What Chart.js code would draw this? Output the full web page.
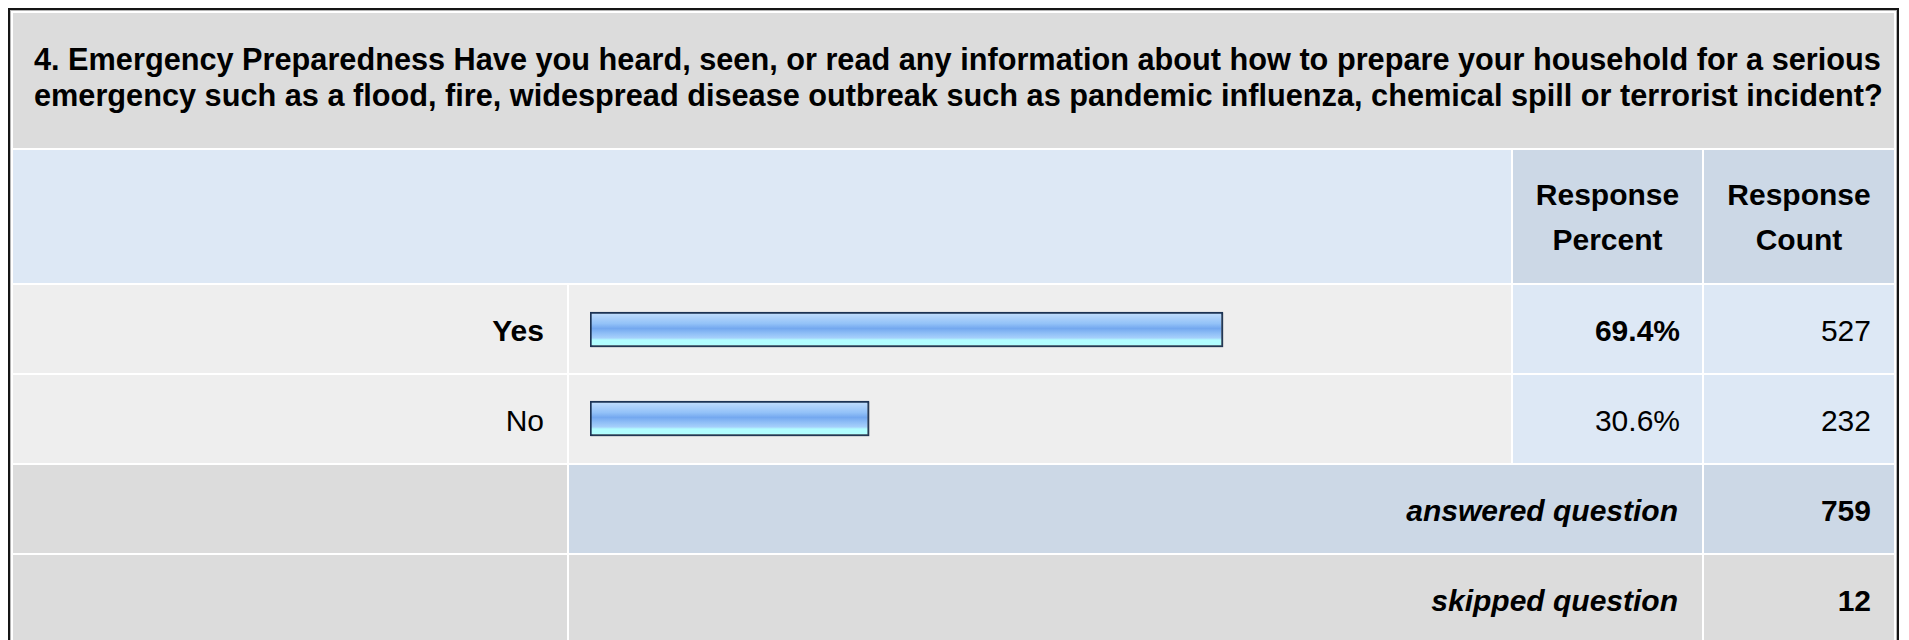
<!DOCTYPE html>
<html>
<head>
<meta charset="utf-8">
<script src="https://cdn.jsdelivr.net/npm/chart.js@4/dist/chart.umd.min.js"></script>
<style>
  html, body { margin: 0; padding: 0; background: #ffffff; width: 1909px; height: 640px; overflow: hidden; }
  body { font-family: "Liberation Sans", Arial, sans-serif; color: #000; position: relative; }
  .frame { position: absolute; left: 8px; top: 8px; width: 1887px; height: 700px;
           border: 2px solid #151515; box-sizing: content-box; }
  .inner { position: absolute; left: 10px; top: 10px; width: 1885px; height: 700px; border: 1px solid #b5b5b5; background: #ffffff; }
  .cell { position: absolute; box-sizing: border-box; display: flex; align-items: center; font-size: 30px; }
  .r { justify-content: flex-end; text-align: right; padding-top: 3px; }
  .c { justify-content: center; text-align: center; }
  .b { font-weight: bold; }
  .i { font-style: italic; }
  #chartBox { position: absolute; left: 569px; top: 285px; width: 942px; height: 178px; }
</style>
</head>
<body>
<div class="frame"></div>
<div class="inner"></div>
<div id="cells"></div>
<div id="chartBox"><canvas id="chart" width="942" height="178" style="width:942px;height:178px;"></canvas></div>
<script>
// ---- data ----
const questionLine1 = "4. Emergency Preparedness Have you heard, seen, or read any information about how to prepare your household for a serious";
const questionLine2 = "emergency such as a flood, fire, widespread disease outbreak such as pandemic influenza, chemical spill or terrorist incident?";
const headerLabels = ["Response Percent", "Response Count"];
const categories = ["Yes", "No"];
const responsePercent = [69.4, 30.6];
const responseCount = [527, 232];
const answeredLabel = "answered question";
const answeredCount = 759;
const skippedLabel = "skipped question";
const skippedCount = 12;

// ---- layout (table cells) ----
const C = { x0: 13, x1: 567, x2: 569, x3: 1511, x4: 1513, x5: 1702, x6: 1704, x7: 1894 };
const rowsY = [[13,148],[150,283],[285,373],[375,463],[465,553],[555,643]];
const GRAY = "#dcdcdc", LBLUE = "#dde8f5", MBLUE = "#ccd8e6", LGRAY = "#eeeeee";
const host = document.getElementById("cells");
function cell(x0, x1, r, bg, html, cls, extra) {
  const d = document.createElement("div");
  d.className = "cell " + (cls || "");
  d.style.left = x0 + "px"; d.style.width = (x1 - x0) + "px";
  d.style.top = rowsY[r][0] + "px"; d.style.height = (rowsY[r][1] - rowsY[r][0]) + "px";
  d.style.background = bg;
  if (extra) Object.assign(d.style, extra);
  d.innerHTML = html || "";
  host.appendChild(d);
  return d;
}
// title
cell(C.x0, C.x7, 0, GRAY, "<div>" + questionLine1 + "<br>" + questionLine2 + "</div>", "b",
     { paddingLeft: "21px", paddingBottom: "6px", lineHeight: "36px", whiteSpace: "nowrap", fontSize: "30.7px" });
// header
cell(C.x0, C.x3, 1, LBLUE, "");
cell(C.x4, C.x5, 1, MBLUE, headerLabels[0].replace(" ", "<br>"), "c b", { lineHeight: "45px" });
cell(C.x6, C.x7, 1, MBLUE, headerLabels[1].replace(" ", "<br>"), "c b", { lineHeight: "45px" });
// data rows
const maxIdx = responsePercent.indexOf(Math.max(...responsePercent));
categories.forEach((cat, i) => {
  const r = 2 + i;
  const bold = i === maxIdx ? " b" : "";
  cell(C.x0, C.x1, r, LGRAY, cat, "r" + bold, { paddingRight: "23px" });
  cell(C.x2, C.x3, r, LGRAY, "");
  cell(C.x4, C.x5, r, LBLUE, responsePercent[i].toFixed(1) + "%", "r" + bold, { paddingRight: "22px" });
  cell(C.x6, C.x7, r, LBLUE, String(responseCount[i]), "r", { paddingRight: "23px" });
});
// summary rows
cell(C.x0, C.x1, 4, GRAY, "");
cell(C.x2, C.x5, 4, MBLUE, answeredLabel, "r b i", { paddingRight: "24px" });
cell(C.x6, C.x7, 4, MBLUE, String(answeredCount), "r b", { paddingRight: "23px" });
cell(C.x0, C.x1, 5, GRAY, "");
cell(C.x2, C.x5, 5, GRAY, skippedLabel, "r b i", { paddingRight: "24px" });
cell(C.x6, C.x7, 5, GRAY, String(skippedCount), "r b", { paddingRight: "23px" });

// ---- bars via Chart.js ----
const BAR_T = 35;
function barGradient(context) {
  const chart = context.chart;
  const fallback = "#8fbef6";
  if (context.type !== "data" || !chart.scales || !chart.scales.y) return fallback;
  const c = chart.scales.y.getPixelForValue(context.dataIndex);
  if (!Number.isFinite(c)) return fallback;
  const g = chart.ctx.createLinearGradient(0, c - BAR_T / 2, 0, c + BAR_T / 2);
  g.addColorStop(0.00, "#c6e1fd");
  g.addColorStop(0.18, "#a9cffa");
  g.addColorStop(0.33, "#93c2f8");
  g.addColorStop(0.47, "#74a8ef");
  g.addColorStop(0.60, "#8dbdf6");
  g.addColorStop(0.74, "#a6d0fb");
  g.addColorStop(0.80, "#b2fdff");
  g.addColorStop(1.00, "#b2ffff");
  return g;
}
const barShadow = {
  id: "barShadow",
  beforeDatasetsDraw(chart) {
    const ctx = chart.ctx;
    ctx.save();
    ctx.shadowColor = "rgba(90,90,90,0.45)";
    ctx.shadowOffsetX = 1;
    ctx.shadowOffsetY = 1;
    ctx.shadowBlur = 0;
  },
  afterDatasetsDraw(chart) { chart.ctx.restore(); }
};
new Chart(document.getElementById("chart"), {
  type: "bar",
  data: {
    labels: categories,
    datasets: [{
      data: responsePercent,
      backgroundColor: barGradient,
      borderColor: "#1c3354",
      borderWidth: 2,
      borderSkipped: false,
      barThickness: BAR_T
    }]
  },
  options: {
    indexAxis: "y",
    responsive: false,
    animation: false,
    devicePixelRatio: 1,
    layout: { padding: { left: 21, right: 9, top: 0, bottom: 0 } },
    plugins: { legend: { display: false }, tooltip: { enabled: false }, title: { display: false } },
    scales: {
      x: { min: 0, max: 100, display: false },
      y: { display: false }
    }
  },
  plugins: [barShadow]
});
</script>
</body>
</html>
